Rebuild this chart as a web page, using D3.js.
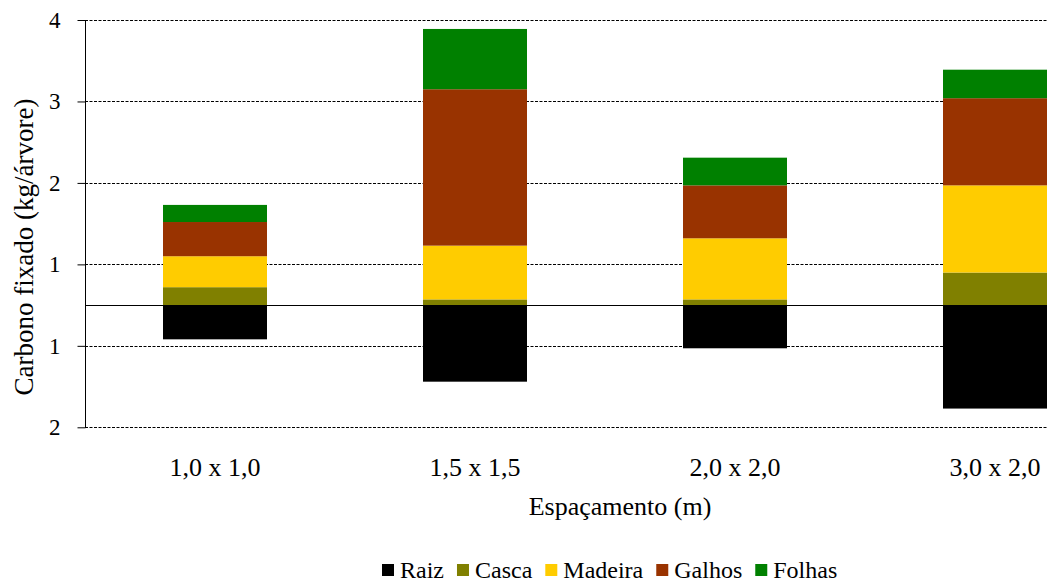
<!DOCTYPE html>
<html>
<head>
<meta charset="utf-8">
<script src="https://cdn.jsdelivr.net/npm/d3@7"></script>
<style>
  html, body { margin: 0; padding: 0; background: #fff; }
  svg { display: block; }
</style>
</head>
<body>
<svg id="chart" width="1047" height="583"></svg>
<script>
// Carbon fixed per tree (kg/árvore) by component, for each planting spacing.
const categories = ["1,0 x 1,0", "1,5 x 1,5", "2,0 x 2,0", "3,0 x 2,0"];
const seriesNames = ["Raiz", "Casca", "Madeira", "Galhos", "Folhas"];
const seriesColors = ["#000000", "#808000", "#FFCC00", "#993300", "#008000"];

// Roots are plotted below the zero line.
const raiz    = [-0.42, -0.94, -0.53, -1.27];
const casca   = [0.22, 0.07, 0.07, 0.40];
const madeira = [0.38, 0.66, 0.75, 1.07];
const galhos  = [0.42, 1.92, 0.65, 1.07];
const folhas  = [0.21, 0.74, 0.34, 0.35];

const yTickValues = [3.5, 2.5, 1.5, 0.5, -0.5, -1.5];
const yTickLabels = ["4", "3", "2", "1", "1", "2"];

const FONT = "Liberation Serif";

const seriesValues = [raiz, casca, madeira, galhos, folhas];
const rows = categories.map((c, i) => {
  const r = { cat: c };
  seriesNames.forEach((s, k) => { r[s] = seriesValues[k][i]; });
  return r;
});

const svg = d3.select("#chart");

const x = d3.scaleBand()
  .domain(categories)
  .range([85, 1125])
  .paddingInner(0.6)
  .paddingOuter(0.3);

const y = d3.scaleLinear()
  .domain([-1.5, 3.5])
  .range([427.3, 20]);

// Dashed grid lines
svg.append("g")
  .selectAll("line")
  .data(yTickValues)
  .join("line")
  .attr("x1", 85)
  .attr("x2", 1125)
  .attr("y1", d => Math.round(y(d)) + 0.5)
  .attr("y2", d => Math.round(y(d)) + 0.5)
  .attr("stroke", "#000")
  .attr("stroke-width", 1)
  .attr("stroke-dasharray", "3,1.5");

// Stacked bars
const stack = d3.stack()
  .keys(seriesNames)
  .offset(d3.stackOffsetDiverging);
const layers = stack(rows);

svg.append("g")
  .selectAll("g")
  .data(layers)
  .join("g")
  .attr("fill", (d, i) => seriesColors[i])
  .selectAll("rect")
  .data(d => d)
  .join("rect")
  .attr("x", d => x(d.data.cat))
  .attr("width", x.bandwidth())
  .attr("y", d => y(Math.max(d[0], d[1])))
  .attr("height", d => Math.abs(y(d[0]) - y(d[1])));

// Y axis
const yAxis = d3.axisLeft(y)
  .tickValues(yTickValues)
  .tickSize(8)
  .tickPadding(17)
  .tickFormat((d, i) => yTickLabels[i]);

const yg = svg.append("g")
  .attr("transform", "translate(85.5,0)")
  .call(yAxis);
yg.select(".domain").attr("d", `M0,${y(3.5)}V${y(-1.5)}`).attr("stroke", "#000");
yg.selectAll(".tick line").attr("stroke", "#000");
yg.selectAll(".tick text")
  .style("font-family", FONT)
  .style("font-size", "23px")
  .attr("fill", "#000");

// Zero line
svg.append("line")
  .attr("x1", 85)
  .attr("x2", 1125)
  .attr("y1", Math.round(y(0)) + 0.5)
  .attr("y2", Math.round(y(0)) + 0.5)
  .attr("stroke", "#000")
  .attr("stroke-width", 1.2);

// Category labels
svg.append("g")
  .selectAll("text")
  .data(categories)
  .join("text")
  .attr("x", d => x(d) + x.bandwidth() / 2)
  .attr("y", 476)
  .attr("text-anchor", "middle")
  .style("font-family", FONT)
  .style("font-size", "26px")
  .attr("fill", "#000")
  .text(d => d);

// Axis titles
svg.append("text")
  .attr("x", 620)
  .attr("y", 515)
  .attr("text-anchor", "middle")
  .style("font-family", FONT)
  .style("font-size", "26px")
  .attr("fill", "#000")
  .text("Espaçamento (m)");

svg.append("text")
  .attr("transform", "translate(33,247) rotate(-90)")
  .attr("text-anchor", "middle")
  .style("font-family", FONT)
  .style("font-size", "27px")
  .attr("fill", "#000")
  .text("Carbono fixado (kg/árvore)");

// Legend
const legend = svg.append("g");
let lx = 382;
seriesNames.forEach((name, i) => {
  legend.append("rect")
    .attr("x", lx)
    .attr("y", 564)
    .attr("width", 12)
    .attr("height", 12)
    .attr("fill", seriesColors[i]);
  const t = legend.append("text")
    .attr("x", lx + 18)
    .attr("y", 578)
    .style("font-family", FONT)
    .style("font-size", "24px")
    .attr("fill", "#000")
    .text(name);
  lx += 18 + t.node().getComputedTextLength() + 13;
});
</script>
</body>
</html>
